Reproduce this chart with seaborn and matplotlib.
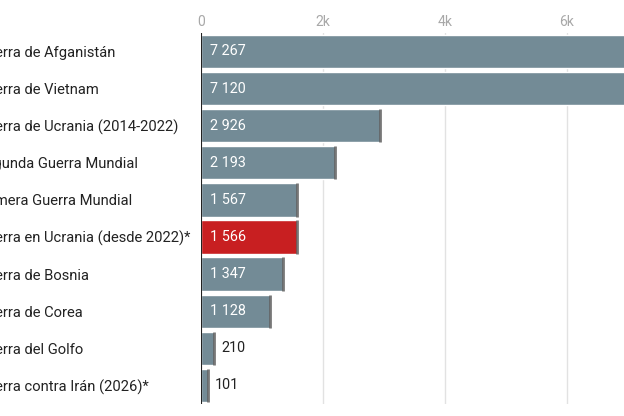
import matplotlib
matplotlib.use("Agg")
import matplotlib.pyplot as plt
import matplotlib.transforms as mtrans
import seaborn as sns
import pandas as pd

# datos
guerras = [
    "Guerra de Afganistán",
    "Guerra de Vietnam",
    "Guerra de Ucrania (2014-2022)",
    "Segunda Guerra Mundial",
    "Primera Guerra Mundial",
    "Guerra en Ucrania (desde 2022)*",
    "Guerra de Bosnia",
    "Guerra de Corea",
    "Guerra del Golfo",
    "Guerra contra Irán (2026)*",
]
valores = [7267, 7120, 2926, 2193, 1567, 1566, 1347, 1128, 210, 101]
destacado = "Guerra en Ucrania (desde 2022)*"

gris = "#738b96"
rojo = "#c81f21"

df = pd.DataFrame({"guerra": guerras, "valor": valores})
colores = {g: (rojo if g == destacado else gris) for g in guerras}

sns.set_theme(style="white")
plt.rcParams["font.family"] = ["Roboto", "DejaVu Sans"]

fig = plt.figure(figsize=(6.24, 4.16), dpi=100)
ax = fig.add_axes([0.3229, 0.0288, 1 - 0.3229, 0.8923])

alto = 0.9
sns.barplot(data=df, x="valor", y="guerra", hue="guerra", palette=colores,
            legend=False, width=alto, saturation=1, ax=ax, zorder=2)

# borde oscuro al final de cada barra
for i, v in enumerate(valores):
    ax.vlines(v, i - alto / 2, i + alto / 2, color="#555555", lw=2, alpha=0.8, zorder=3)

# etiquetas de valor
dentro = ax.transData + mtrans.ScaledTranslation(6 / 72, 0, fig.dpi_scale_trans)
for i, v in enumerate(valores):
    txt = f"{v:,}".replace(",", " ")
    if v > 500:
        ax.text(0, i, txt, color="white", fontsize=10.4, va="center", ha="left",
                transform=dentro, zorder=4)
    else:
        ax.annotate(txt, (v, i), xytext=(5, 0), textcoords="offset points",
                    color="#222222", fontsize=10.4, va="center", ha="left", zorder=4)

ax.set_xlim(0, 6943)
ax.set_ylim(len(guerras) - 0.5, -0.5)
ax.set_xticks([0, 2000, 4000, 6000])
ax.set_xticklabels(["0", "2k", "4k", "6k"])
ax.xaxis.tick_top()
ax.tick_params(axis="x", length=0, pad=3, labelsize=10, labelcolor="#a8a8a8")
ax.grid(axis="x", color="#e2e2e2", lw=1, zorder=0)
ax.set_axisbelow(True)

ax.tick_params(axis="y", length=0, pad=161.5, labelsize=10.6, labelcolor="#222222")
for lab in ax.get_yticklabels():
    lab.set_horizontalalignment("left")

ax.set_xlabel("")
ax.set_ylabel("")
for s in ax.spines.values():
    s.set_visible(False)
ax.axvline(0, color="#222222", lw=1.5, zorder=5)

plt.savefig("out.png", dpi=100)
